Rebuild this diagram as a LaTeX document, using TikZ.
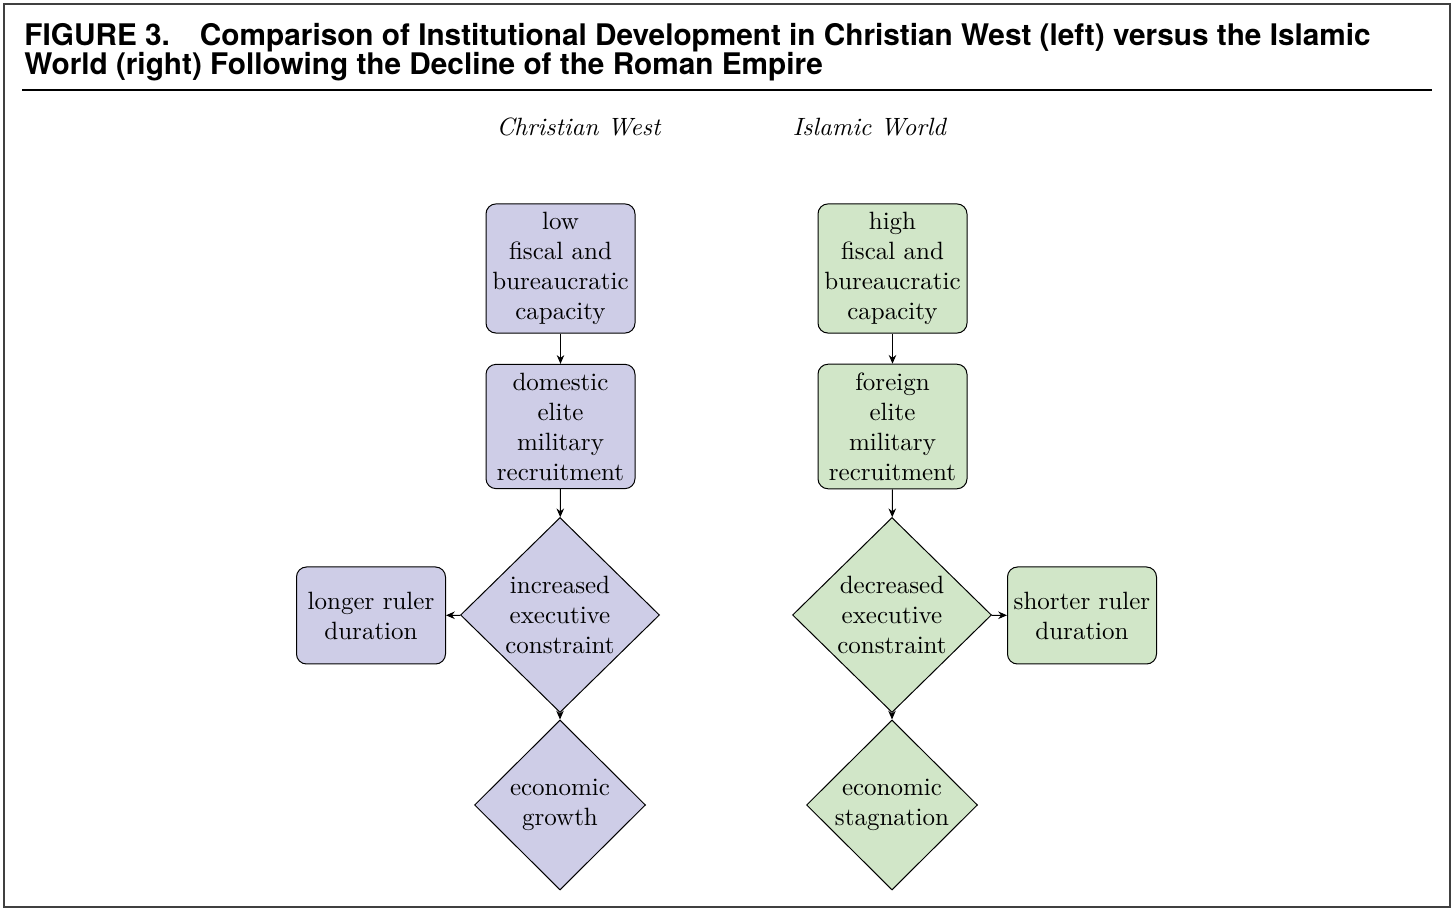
\documentclass[tikz,border=0pt]{standalone}
\usepackage{fontspec}
\newfontfamily\titlefont{TeX Gyre Heros}
\usetikzlibrary{arrows.meta,shapes.geometric}
\definecolor{westfill}{RGB}{206,205,231}
\definecolor{islamfill}{RGB}{209,230,200}
\tikzstyle{flowstyle}=[
    x=0.4pt, y=-0.4pt,
    >={Stealth[length=3.5pt,width=3pt]},
    every node/.style={align=center},
]
\tikzstyle{capbox}=[draw, rounded corners=4pt, text width=56pt, inner xsep=1.8pt, inner ysep=3.33pt]
\tikzstyle{decision}=[draw, diamond, inner sep=0pt]

\begin{document}
\begin{tikzpicture}[flowstyle]
        \useasboundingbox (0,0) rectangle (1456,912);
        \draw[line width=0.8pt, black!75] (4,4) rectangle (1450,907);
        \node[anchor=base west, align=left, inner sep=0pt, font=\titlefont\bfseries\fontsize{11.9}{11.6}\selectfont] (title) at (24,75)
            {FIGURE 3.\hspace{12pt}Comparison of Institutional Development in Christian West (left) versus the Islamic\\World (right) Following the Decline of the Roman Empire};
        \coordinate (ruleL) at (22,90);
        \coordinate (ruleR) at (1432,90);
        \draw[line width=0.8pt] (ruleL) -- (ruleR);

        \node (westhead) at (579,127) {\textit{Christian West}};
        \node (islamhead) at (870,127) {\textit{Islamic World}};

        \node[capbox, fill=westfill, minimum height=50.8pt] (westcap) at (560.5,268.5) {low\\fiscal and\\bureaucratic\\capacity};
        \node[capbox, fill=westfill, minimum height=49.2pt] (westmil) at (560.5,426.5) {domestic\\elite\\military\\recruitment};
        \node[decision, fill=westfill, minimum width=79.6pt, minimum height=78pt] (westcon) at (560,615) {increased\\executive\\constraint};
        \node[capbox, fill=westfill, minimum height=38.8pt] (westrul) at (371,615.5) {longer ruler\\duration};
        \node[decision, fill=westfill, minimum width=68.4pt, minimum height=68pt] (westeco) at (560,805) {economic\\growth};

        \node[capbox, fill=islamfill, minimum height=50.8pt] (islamcap) at (892.5,268.5) {high\\fiscal and\\bureaucratic\\capacity};
        \node[capbox, fill=islamfill, minimum height=49.2pt] (islammil) at (892.5,426.5) {foreign\\elite\\military\\recruitment};
        \node[decision, fill=islamfill, minimum width=79.6pt, minimum height=78pt] (islamcon) at (892,615) {decreased\\executive\\constraint};
        \node[capbox, fill=islamfill, minimum height=38.8pt] (islamrul) at (1082,615.5) {shorter ruler\\duration};
        \node[decision, fill=islamfill, minimum width=68.4pt, minimum height=68pt] (islameco) at (892,805) {economic\\stagnation};

        \draw[->] (westcap) -- (westmil);
        \draw[->] (westmil) -- (westcon);
        \draw[->] (westcon) -- (westeco);
        \draw[->] (westcon) -- (westrul);
        \draw[->] (islamcap) -- (islammil);
        \draw[->] (islammil) -- (islamcon);
        \draw[->] (islamcon) -- (islameco);
        \draw[->] (islamcon) -- (islamrul);
    \end{tikzpicture}
\end{document}
